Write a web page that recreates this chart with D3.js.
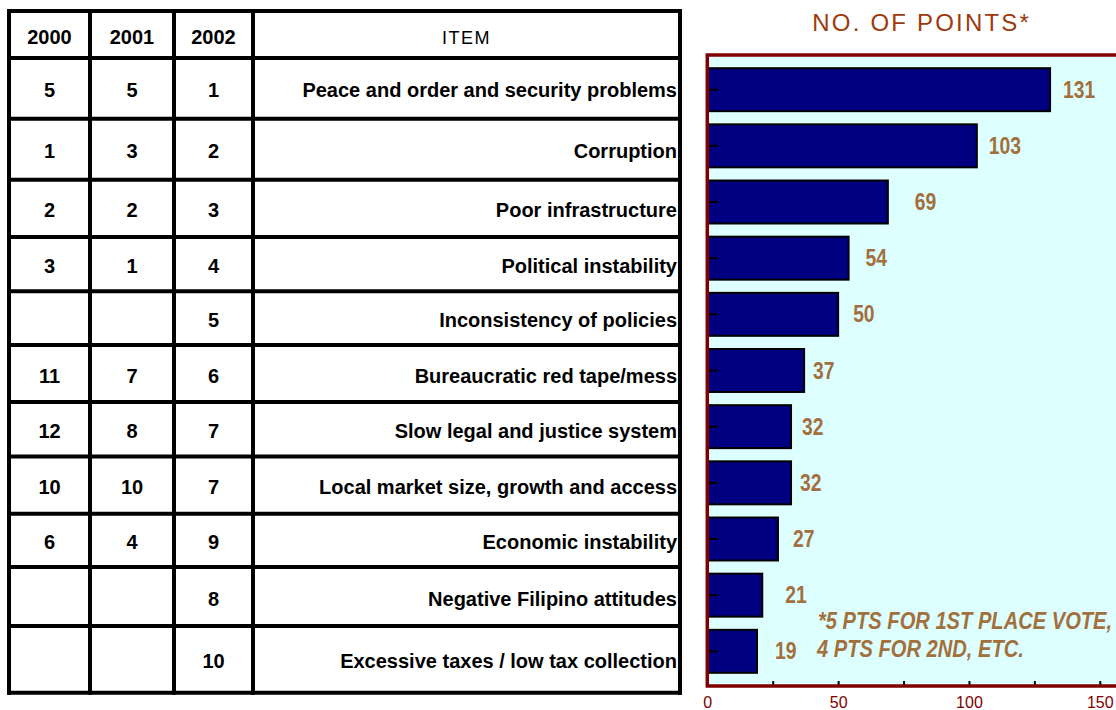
<!DOCTYPE html>
<html>
<head>
<meta charset="utf-8">
<script src="https://cdn.jsdelivr.net/npm/d3@7"></script>
<style>
  html, body { margin: 0; padding: 0; background: #ffffff; }
  svg { display: block; }
</style>
</head>
<body>
<svg id="chart" width="1116" height="710"></svg>
<script>
// Ranking table and point totals
const items = [
  "Peace and order and security problems",
  "Corruption",
  "Poor infrastructure",
  "Political instability",
  "Inconsistency of policies",
  "Bureaucratic red tape/mess",
  "Slow legal and justice system",
  "Local market size, growth and access",
  "Economic instability",
  "Negative Filipino attitudes",
  "Excessive taxes / low tax collection"
];
const rank2000 = ["5", "1", "2", "3", "", "11", "12", "10", "6", "", ""];
const rank2001 = ["5", "3", "2", "1", "", "7", "8", "10", "4", "", ""];
const rank2002 = ["1", "2", "3", "4", "5", "6", "7", "7", "9", "8", "10"];
const points = [131, 103, 69, 54, 50, 37, 32, 32, 27, 21, 19];
const yearHeaders = ["2000", "2001", "2002"];
const itemHeader = "ITEM";
const chartTitle = "NO. OF POINTS*";
const footnote = ["*5 PTS FOR 1ST PLACE VOTE,", "4 PTS FOR 2ND, ETC."];
const xTickValues = [0, 25, 50, 75, 100, 125, 150];

// Layout: table grid lines (pixel positions) and per-label gaps after the bars
const rowEdges = [11, 58, 118.7, 179.7, 237, 291.3, 345, 402, 456.5, 513.7, 567, 626, 692.7];
const colEdges = [9, 90, 174, 253, 680];
const labelGap = [13, 12, 27, 17, 15, 9, 11, 9, 15, 23, 18];

const svg = d3.select("#chart");
const tableFont = "'Liberation Sans', Arial, Helvetica, sans-serif";
const tan = "#a2703c";
const axisRed = "#800000";
// condensed look for the orange-brown annotations (horizontal squeeze)
const narrow = (xPos, yPos, sx) => `translate(${xPos},${yPos}) scale(${sx},1)`;

// ---------- Table ----------
const table = svg.append("g").attr("class", "table");
const rowCenter = i => (rowEdges[i] + rowEdges[i + 1]) / 2;
const colCenter = j => (colEdges[j] + colEdges[j + 1]) / 2;

// header row
yearHeaders.forEach((t, j) => {
  table.append("text")
    .attr("x", colCenter(j)).attr("y", rowCenter(0) + 9)
    .attr("text-anchor", "middle")
    .attr("font-family", tableFont).attr("font-weight", "bold").attr("font-size", 20)
    .attr("fill", "#000").text(t);
});
table.append("text")
  .attr("x", colCenter(3)).attr("y", rowCenter(0) + 9)
  .attr("text-anchor", "middle")
  .attr("font-family", tableFont).attr("font-size", 18).attr("letter-spacing", 1.5)
  .attr("fill", "#000").text(itemHeader);

// body rows
const rows = items.map((name, i) => ({ name, r0: rank2000[i], r1: rank2001[i], r2: rank2002[i], row: i + 1 }));
const rowG = table.selectAll("g.row").data(rows).join("g").attr("class", "row");
[["r0", 0], ["r1", 1], ["r2", 2]].forEach(([key, j]) => {
  rowG.append("text")
    .attr("x", colCenter(j)).attr("y", d => rowCenter(d.row) + 9)
    .attr("text-anchor", "middle")
    .attr("font-family", tableFont).attr("font-weight", "bold").attr("font-size", 20)
    .attr("fill", "#000").text(d => d[key]);
});
rowG.append("text")
  .attr("x", colEdges[4] - 3).attr("y", d => rowCenter(d.row) + 9)
  .attr("text-anchor", "end")
  .attr("font-family", tableFont).attr("font-weight", "bold").attr("font-size", 20)
  .attr("fill", "#000").text(d => d.name);

// grid lines
table.selectAll("line.h").data(rowEdges).join("line").attr("class", "h")
  .attr("x1", colEdges[0] - 2).attr("x2", colEdges[4] + 2)
  .attr("y1", d => d).attr("y2", d => d)
  .attr("stroke", "#000").attr("stroke-width", 4);
table.selectAll("line.v").data(colEdges).join("line").attr("class", "v")
  .attr("y1", rowEdges[0] - 2).attr("y2", rowEdges[rowEdges.length - 1] + 2)
  .attr("x1", d => d).attr("x2", d => d)
  .attr("stroke", "#000").attr("stroke-width", 4);

// ---------- Bar chart ----------
const plot = { left: 707.3, top: 55, bottom: 686, right: 1140 };
const x = d3.scaleLinear().domain([0, 150]).range([plot.left, 1099.8]);
const y = d3.scaleBand().domain(items).range([plot.top, plot.bottom])
  .paddingInner(0.235).paddingOuter(0.235);

const chart = svg.append("g").attr("class", "chart");

chart.append("rect")
  .attr("x", plot.left).attr("y", plot.top)
  .attr("width", plot.right - plot.left).attr("height", plot.bottom - plot.top)
  .attr("fill", "#ddffff");

chart.append("text")
  .attr("x", 921.7).attr("y", 31)
  .attr("text-anchor", "middle")
  .attr("font-family", tableFont).attr("font-size", 24).attr("letter-spacing", 2.2)
  .attr("fill", "#9c3a0e").text(chartTitle);

const data = items.map((name, i) => ({ name, value: points[i], gap: labelGap[i] }));

chart.selectAll("rect.bar").data(data).join("rect").attr("class", "bar")
  .attr("x", x(0)).attr("y", d => y(d.name))
  .attr("width", d => x(d.value) - x(0)).attr("height", y.bandwidth())
  .attr("fill", "#000080").attr("stroke", "#000").attr("stroke-width", 2);

chart.selectAll("text.val").data(data).join("text").attr("class", "val")
  .attr("transform", d => narrow(x(d.value) + d.gap, y(d.name) + y.bandwidth() / 2 + 8, 0.84))
  .attr("font-family", tableFont).attr("font-weight", "bold").attr("font-size", 23)
  .attr("fill", tan).text(d => d.value);

// left axis: short inward ticks at bar centres
const yAxis = chart.append("g")
  .attr("transform", `translate(${plot.left},0)`)
  .call(d3.axisLeft(y).tickSizeInner(-11).tickSizeOuter(0).tickFormat(""));
yAxis.select(".domain").remove();
yAxis.selectAll(".tick line").attr("stroke", "#000").attr("stroke-width", 2);

// bottom axis: upward ticks every 25, labels every 50
const xAxis = chart.append("g")
  .attr("transform", `translate(0,${plot.bottom})`)
  .call(d3.axisBottom(x).tickValues(xTickValues).tickSizeInner(-5).tickSizeOuter(0)
    .tickPadding(11).tickFormat(d => d % 50 === 0 ? d : ""));
xAxis.select(".domain").remove();
xAxis.selectAll(".tick line").attr("stroke", "#000").attr("stroke-width", 2);
xAxis.selectAll(".tick text")
  .attr("font-family", tableFont).attr("font-size", 16).attr("fill", axisRed);

// plot frame (top, left, bottom)
chart.append("path")
  .attr("d", `M${plot.right},${plot.top}H${plot.left}V${plot.bottom}H${plot.right}`)
  .attr("fill", "none").attr("stroke", axisRed).attr("stroke-width", 3.5);

// footnote
chart.selectAll("text.note").data(footnote).join("text").attr("class", "note")
  .attr("transform", (d, i) => narrow(i === 0 ? 818 : 817, 629 + i * 28, 0.875))
  .attr("font-family", tableFont).attr("font-weight", "bold").attr("font-style", "italic")
  .attr("font-size", 23).attr("fill", tan).text(d => d);
</script>
</body>
</html>
